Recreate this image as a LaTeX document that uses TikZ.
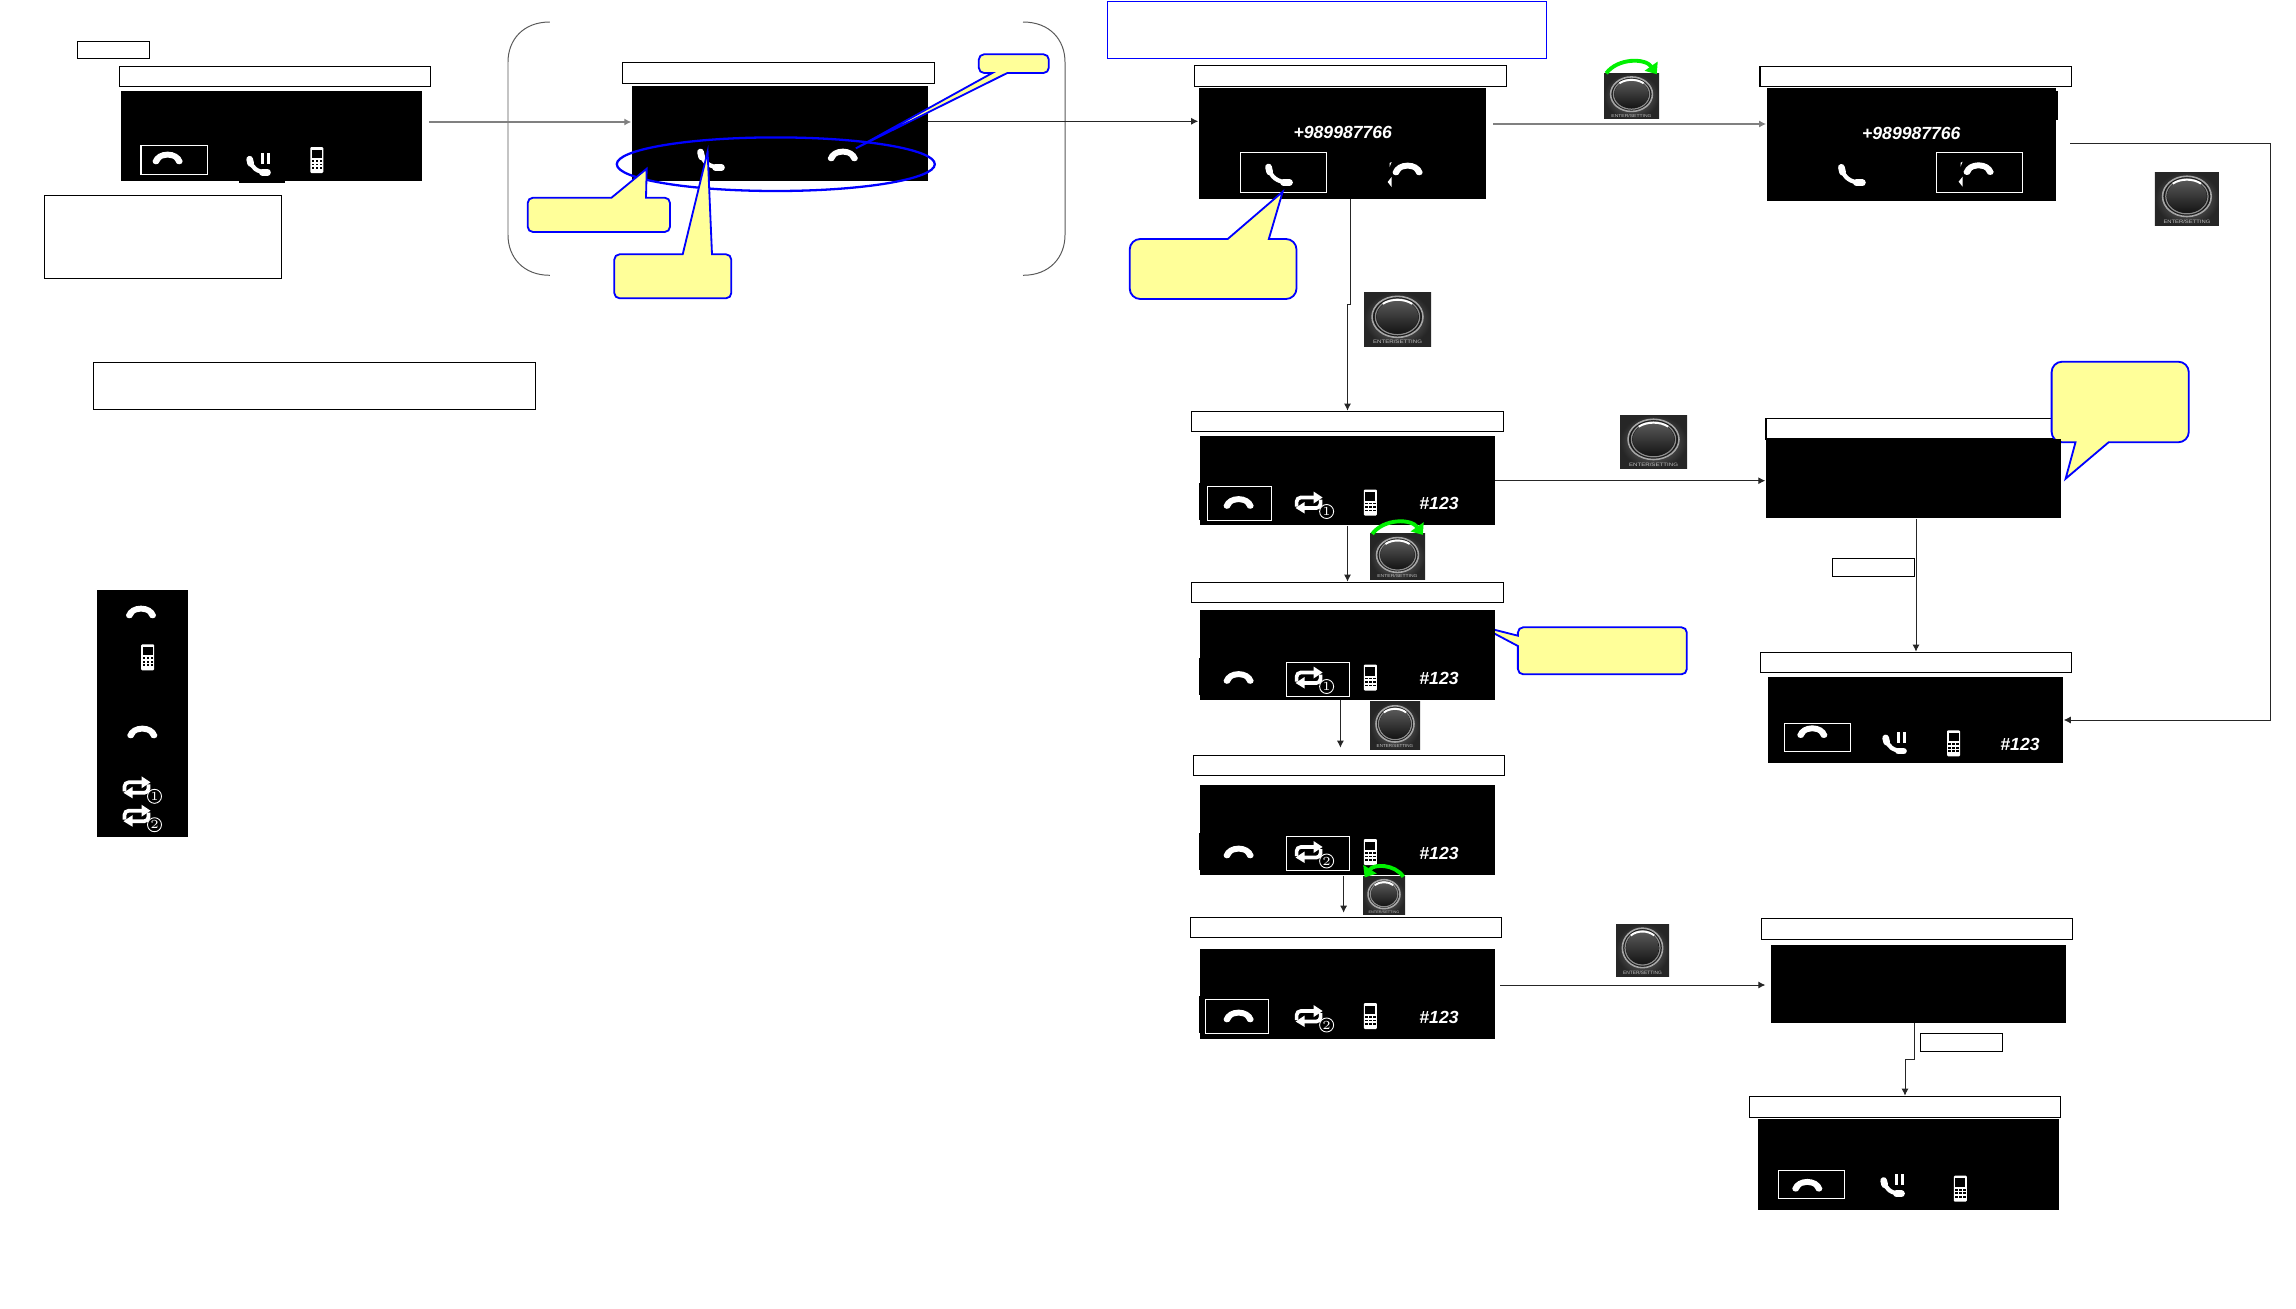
\documentclass[tikz,border=0pt]{standalone}
\usepackage{fontspec}
\setsansfont{Liberation Sans}
\usetikzlibrary{arrows.meta}
\definecolor{noteyellow}{HTML}{FFFF99}
\definecolor{knobgreen}{HTML}{00F000}
\tikzset{
	wh/.style 2 args={minimum width=#1*0.01cm, minimum height=#2*0.01cm},
	titlebar/.style={draw=black, fill=white, line width=0.36pt, inner sep=0pt},
	screen/.style={fill=black, inner sep=0pt},
	selbox/.style={draw=white, line width=0.33pt, inner sep=0pt},
	bluebox/.style={draw=blue, fill=white, line width=0.3pt, inner sep=0pt},
	bubble/.style={draw=blue, fill=noteyellow, line width=0.52pt},
	bracket/.style={draw=black!65, line width=0.28pt},
	flow/.style={draw=black!85, line width=0.28pt, -{Latex[length=2pt,width=2pt]}},
	flowlight/.style={draw=black!50, line width=0.35pt, -{Latex[length=2pt,width=2pt]}},
	dialtext/.style={text=white, inner sep=0pt, font=\fontsize{5}{6}\sffamily\bfseries\itshape},
	digit/.style={circle, draw=white, fill=black, text=white, line width=0.25pt, inner sep=0pt,
		minimum size=0.14cm, font=\fontsize{3.5}{4}\selectfont},
	knoblabel/.style={text=black!25, inner sep=0pt, transform shape, font=\fontsize{2.6}{3}\sffamily},
	hangup/.pic={
		\fill[white] (-15,3) .. controls (-11,-9.5) and (11,-9.5) .. (15,3)
			.. controls (15.5,7) and (8.5,7.5) .. (8,3.5) .. controls (7,0.5) and (3,-0.5) .. (0,-0.5)
			.. controls (-3,-0.5) and (-7,0.5) .. (-8,3.5) .. controls (-8.5,7.5) and (-15.5,7) .. (-15,3) -- cycle;
	},
	hangupcut/.pic={
		\pic {hangup};
		\fill[white] (-18,-6) -- (-16,-7) -- (-18,-2) -- cycle;
		\fill[white] (-20,13) -- (-16,8) -- (-16,18) -- cycle;
	},
	handset/.pic={
		\draw[white, line width=1.2pt, line cap=round] (-10.5,-7) .. controls (-9,2) and (-2,7.5) .. (10,7.5);
		\draw[white, line width=1.9pt, line cap=round] (-11,-8) -- (-9.8,-3);
		\draw[white, line width=1.9pt, line cap=round] (4,7.5) -- (10,7.5);
	},
	holdcall/.pic={
		\pic[scale=0.85] at (-1,2) {handset};
		\fill[white] (1,-11) rectangle (4,0);
		\fill[white] (7,-11) rectangle (10,0);
	},
	mobile/.pic={
		\fill[white, rounded corners=0.3pt] (-6.5,-13) rectangle (6.5,13);
		\fill[black] (-5,-10.5) rectangle (5,-2);
		\foreach \kx in {-4,0,4}{
			\foreach \ky in {1,4.5,8}{
				\fill[black] (\kx-1.2,\ky-0.9) rectangle (\kx+1.2,\ky+0.9);
			}
		}
	},
	repeaticon/.pic={
		\draw[white, line width=1.05pt, rounded corners=1.2pt] (-12,4) -- (-12,-5) -- (7,-5);
		\fill[white] (5,-11) -- (14,-5) -- (5,1) -- cycle;
		\draw[white, line width=1.05pt, rounded corners=1.2pt] (12,-3) -- (12,5.5) -- (-6,5.5);
		\fill[white] (-4,-0.5) -- (-13,5.5) -- (-4,11) -- cycle;
		\node[digit] (num) at (18,9) {#1};
	},
	knob/.pic={
		\shade[inner color=black!50, outer color=black!85] (-50,-50) rectangle (50,50);
		\draw[black!35, line width=0.45pt, fill=black!90] (0,-4) circle (38);
		\draw[black!45, line width=0.35pt] (0,-4) circle (33);
		\shade[top color=black!65, bottom color=black!92] (0,-4) circle (31);
		\draw[white, line width=0.55pt] (-22,-28) .. controls (-10,-38) and (10,-38) .. (22,-28);
		\node[knoblabel] (lab) at (0,43) {ENTER/SETTING};
	},
	turnarc/.pic={
		\draw[knobgreen, line width=1.1pt, -{Triangle[length=2.8pt,width=4.4pt]}]
			(-46,-50) .. controls (-25,-84) and (25,-84) .. (46,-48);
	},
}
\begin{document}
\begin{tikzpicture}[x=0.01cm, y=-0.01cm]
\useasboundingbox (0,0) rectangle (2296,1309);
%left column
\node[titlebar, wh={72}{17.4}] (tag1) at (113.3,50) {};
\node[titlebar, wh={311}{20.4}] (title1) at (275,76.5) {};
\node[screen, wh={301}{90}] (scr1) at (271.5,136) {};
\fill[black] (239,181) rectangle (285,183);
\node[selbox, wh={66.8}{29}] (sel1) at (174.4,159.8) {};
\pic at (167.6,158) {hangup};
\pic at (260,164) {holdcall};
\pic at (316.8,160) {mobile};
\node[titlebar, wh={237}{83}] (note1) at (163,236.8) {};
\node[titlebar, wh={442}{47}] (note2) at (314.5,385.8) {};
%legend strip
\node[screen, wh={91}{247}] (legend) at (142.5,713.5) {};
\pic at (141,612) {hangup};
\pic at (147.7,657.3) {mobile};
\pic at (142.3,732) {hangup};
\pic (leg1) at (136.5,787.3) {repeaticon=1};
\pic (leg2) at (136.5,815.7) {repeaticon=2};
%bracket group
\draw[bracket] (549.8,22) .. controls (523,22) and (508,40) .. (508,62) -- (508,235)
	.. controls (508,257) and (523,275.3) .. (549.8,275.3);
\draw[bracket] (1023,22) .. controls (1050,22) and (1065,40) .. (1065,62) -- (1065,235)
	.. controls (1065,257) and (1050,275.3) .. (1023,275.3);
\node[titlebar, wh={312}{21}] (title2) at (778.6,72.8) {};
\node[screen, wh={296}{95}] (scr2) at (780,133.5) {};
\pic at (711.5,160) {handset};
\pic at (842.8,155) {hangup};
%middle column
\node[bluebox, wh={439}{57.4}] (info) at (1326.7,30) {};
\node[titlebar, wh={312}{21.4}] (title3) at (1350.5,76) {};
\node[screen, wh={286.6}{111.3}] (scr3) at (1342.2,143.7) {};
\node[dialtext] (num3) at (1342.8,132.7) {+989987766};
\node[selbox, wh={86}{40}] (sel3) at (1283.5,172.3) {};
\pic at (1279.5,175) {handset};
\pic at (1407.6,169) {hangupcut};
\node[titlebar, wh={312}{20.4}] (title5) at (1347.5,421.5) {};
\node[screen, wh={295}{89}] (scr5) at (1347.5,480.5) {};
\node[titlebar, wh={312}{20.4}] (title7) at (1347.5,592.5) {};
%pointer runs under the screen
\draw[bubble] (1517.9,646) -- (1480.7,626.3) -- (1517.9,635.7) [rounded corners=1.5pt] -- (1517.9,627.3)
	-- (1686.8,627.3) -- (1686.8,674.3) -- (1517.9,674.3) [sharp corners] -- cycle;
\node[screen, wh={295}{89.7}] (scr7) at (1347.5,654.8) {};
\node[titlebar, wh={311}{20.4}] (title8) at (1349,765.5) {};
\node[screen, wh={295}{90}] (scr8) at (1347.5,830) {};
\node[titlebar, wh={311}{20.4}] (title9) at (1346,927.5) {};
\node[screen, wh={295}{90}] (scr9) at (1347.5,994) {};
\foreach \y in {483,658,832.7,996}{
	\fill[black] (1199,\y) rectangle (1200.5,\y+37);
}
\node[selbox, wh={64}{34}] (sel5) at (1239.8,503.3) {};
\node[selbox, wh={63}{34}] (sel7) at (1318,679.3) {};
\node[selbox, wh={63}{34}] (sel8) at (1318,853.3) {};
\node[selbox, wh={63}{34}] (sel9) at (1237,1016.3) {};
\foreach \y/\n/\id in {502.5/1/5, 677.5/1/7, 852/2/8, 1016/2/9}{
	\pic at (1238.6,\y) {hangup};
	\pic (rep\id) at (1308.6,\y) {repeaticon=\n};
	\pic at (1370.4,\y) {mobile};
	\node[dialtext] (dial\id) at (1439,\y+1) {\#123};
}
%right column
\node[titlebar, wh={311.7}{20.4}] (title4) at (1915.8,76.5) {};
\node[screen, wh={289}{112.7}] (scr4) at (1911.3,144.4) {};
\fill[black] (2055,91) rectangle (2058,120);
\node[dialtext] (num4) at (1911.3,133.7) {+989987766};
\node[selbox, wh={86}{40}] (sel4) at (1979.5,172.5) {};
\pic at (1852.4,175.3) {handset};
\pic at (1978.6,168.7) {hangupcut};
\node[titlebar, wh={312}{20.7}] (title6) at (1922,428.6) {};
\draw[bubble] (2075.5,442.3) -- (2065.6,478.7) -- (2108.6,442.3) [rounded corners=3pt] -- (2188.8,442.3)
	-- (2188.8,361.7) -- (2051.6,361.7) -- (2051.6,442.3) [sharp corners] -- cycle;
\node[screen, wh={295}{79}] (scr6) at (1913.5,478.5) {};
\node[titlebar, wh={82.6}{18}] (tag2) at (1873.5,567.3) {};
\node[titlebar, wh={311.4}{20.4}] (title11) at (1916,662.5) {};
\node[screen, wh={295}{85.7}] (scr11) at (1915.5,719.9) {};
\node[selbox, wh={66.3}{28.4}] (sel11) at (1817.5,737.5) {};
\pic at (1812.3,731.7) {hangup};
\pic at (1896,742.7) {holdcall};
\pic at (1953.5,743.3) {mobile};
\node[dialtext] (dial11) at (2020,744.3) {\#123};
\node[titlebar, wh={311}{21.4}] (title10) at (1917,929) {};
\node[screen, wh={295}{78}] (scr10) at (1918.5,984) {};
\node[titlebar, wh={82.4}{18.4}] (tag3) at (1961.5,1042.5) {};
\node[titlebar, wh={311.4}{21.4}] (title12) at (1905,1107) {};
\node[screen, wh={301}{91}] (scr12) at (1908.5,1164.5) {};
\node[selbox, wh={66.4}{28.4}] (sel12) at (1811.5,1184.5) {};
\pic at (1807.3,1185.3) {hangup};
\pic at (1894,1185.3) {holdcall};
\pic at (1960.3,1188.7) {mobile};
%knobs
\foreach \id/\x/\y/\sx/\sy in {k2/1397.5/319/0.67/0.54, k3/2186.9/198.5/0.64/0.53, k4/1653.5/441.5/0.67/0.53,
	k6/1395/725.8/0.5/0.477, k8/1642.5/950/0.53/0.52, k1/1631.5/96/0.55/0.454, k5/1397.5/556.8/0.55/0.457,
	k7/1384/895.7/0.42/0.38}{
	\pic (\id)[xscale=\sx, yscale=\sy] at (\x,\y) {knob};
}
\pic[xscale=0.55, yscale=0.454] at (1631.5,96) {turnarc};
\pic[xscale=0.55, yscale=0.457] at (1397.5,556.8) {turnarc};
\pic[xscale=-0.42, yscale=0.38] at (1384,895.7) {turnarc};
%connectors
\coordinate (a12) at (429,122);
\coordinate (a23) at (928,121.3);
\coordinate (a34) at (1493,124);
\coordinate (a35) at (1350.3,199.3);
\coordinate (b35) at (1347.5,304);
\coordinate (a56) at (1495,480.7);
\coordinate (a78) at (1340.4,747.7);
\coordinate (a89) at (1343.6,912.7);
\coordinate (a910) at (1500,985);
\coordinate (a411) at (2070.2,143.7);
\coordinate (c411) at (2270,720);
\coordinate (a1012) at (1914,1023);
\coordinate (b1012) at (1905,1059.3);
\draw[flowlight] (a12) -- (a12 -| scr2.west);
\draw[flow] (a23) -- (a23 -| scr3.west);
\draw[flowlight] (a34) -- (a34 -| scr4.west);
\draw[flow] (a35) |- (b35) -- (title5.north);
\draw[flow] (a56) -- (a56 -| scr6.west);
\draw[flow] (scr5.south) -- (title7.north);
\draw[flow] (a78 |- scr7.south) -- (a78);
\draw[flow] (a89 |- scr8.south) -- (a89);
\draw[flow, shorten >=1.4pt] (a910) -- (a910 -| scr10.west);
\draw[flow] (title11.north |- scr6.south) -- (title11.north);
\draw[flow] (a411) -| (c411) -- (c411 -| scr11.east);
\draw[flow] (a1012) |- (b1012) -- (title12.north);
%callouts
\draw[blue, line width=0.65pt] (775.8,164.2) ellipse [x radius=159, y radius=26.8];
\draw[bubble] (611.5,197.7) -- (646.7,168.7) -- (646,197.7) [rounded corners=1.5pt] -- (670,197.7)
	-- (670,232) -- (527.7,232) -- (527.7,197.7) [sharp corners] -- cycle;
\draw[bubble] (682.7,254.3) -- (707.6,151.7) -- (712,254.3) [rounded corners=1.5pt] -- (731.3,254.3)
	-- (731.3,298.3) -- (614.3,298.3) -- (614.3,254.3) [sharp corners] -- cycle;
\draw[bubble] (992.3,73) -- (855.9,148.3) -- (1007.3,73) [rounded corners=1.5pt] -- (1048.8,73)
	-- (1048.8,54.3) -- (978.8,54.3) -- (978.8,73) [sharp corners] -- cycle;
\draw[bubble] (1227.7,239) -- (1282.7,191.7) -- (1268.8,239) [rounded corners=3pt] -- (1296.5,239)
	-- (1296.5,299) -- (1129.7,299) -- (1129.7,239) [sharp corners] -- cycle;
\end{tikzpicture}
\end{document}
